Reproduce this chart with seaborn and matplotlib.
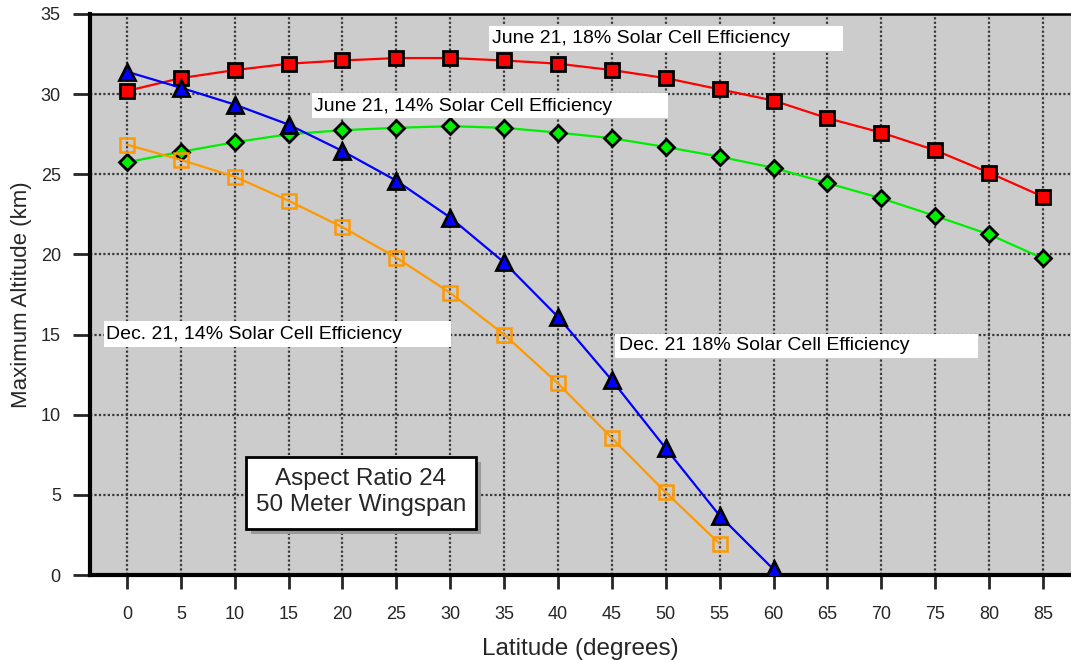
import matplotlib
matplotlib.use("Agg")
import matplotlib.pyplot as plt
from matplotlib.patches import Rectangle
import seaborn as sns

latitude = [0, 5, 10, 15, 20, 25, 30, 35, 40, 45, 50, 55, 60, 65, 70, 75, 80, 85]
june_18 = [30.2, 31.0, 31.5, 31.9, 32.1, 32.25, 32.25, 32.1, 31.9, 31.5, 31.0, 30.3, 29.6, 28.5, 27.6, 26.5, 25.1, 23.6]
june_14 = [25.75, 26.4, 27.0, 27.5, 27.75, 27.9, 28.0, 27.9, 27.6, 27.25, 26.7, 26.1, 25.4, 24.45, 23.5, 22.4, 21.25, 19.75]
dec_18_lat = [0, 5, 10, 15, 20, 25, 30, 35, 40, 45, 50, 55, 60]
dec_18 = [31.4, 30.4, 29.35, 28.1, 26.45, 24.6, 22.3, 19.5, 16.1, 12.15, 7.9, 3.7, 0.35]
dec_14_lat = [0, 5, 10, 15, 20, 25, 30, 35, 40, 45, 50, 55]
dec_14 = [26.85, 25.9, 24.85, 23.35, 21.7, 19.8, 17.6, 15.0, 11.95, 8.55, 5.15, 1.95]

x_ticks = list(range(0, 90, 5))
y_ticks = list(range(0, 40, 5))

sns.set_style("white")
plt.rcParams['font.family'] = ['Liberation Sans', 'DejaVu Sans']

fig = plt.figure(figsize=(10.71, 6.6), dpi=100)
ax = fig.add_axes([90/1071, 1-575/660, 1-90/1071, (575-14)/660])
ax.set_facecolor('#cccccc')

ax.set_xlim(-3.43, 87.6)
ax.set_ylim(0, 35)
ax.set_xticks(x_ticks)
ax.set_yticks(y_ticks)
ax.grid(True, color='#3a3a3a', linestyle=(0, (1, 1)), linewidth=1.6, zorder=0)
ax.set_axisbelow(True)

lw = 1.6
sns.lineplot(x=latitude, y=june_18, ax=ax, color='#ff0000', linewidth=lw,
             marker='s', markersize=10, markerfacecolor='#ff0000',
             markeredgecolor='black', markeredgewidth=2, zorder=5)
sns.lineplot(x=latitude, y=june_14, ax=ax, color='#00ee00', linewidth=lw,
             marker='D', markersize=8.5, markerfacecolor='#00ee00',
             markeredgecolor='black', markeredgewidth=2, zorder=4)
sns.lineplot(x=dec_18_lat, y=dec_18, ax=ax, color='#0000ff', linewidth=lw,
             marker='^', markersize=11.5, markerfacecolor='#0000ff',
             markeredgecolor='black', markeredgewidth=2, zorder=6)
sns.lineplot(x=dec_14_lat, y=dec_14, ax=ax, color='#ff9900', linewidth=lw,
             marker='s', markersize=10, markerfacecolor='none',
             markeredgecolor='#ff9900', markeredgewidth=1.8, zorder=5)

# label boxes
labels = [
    ("June 21, 18% Solar Cell Efficiency", (33.59, 32.69, 32.85, 1.56), 33.87, 33.47),
    ("June 21, 14% Solar Cell Efficiency", (17.17, 28.5, 33.03, 1.56), 17.4, 29.25),
    ("Dec. 21, 14% Solar Cell Efficiency", (-2.13, 14.25, 32.2, 1.62), -1.95, 15.0),
    ("Dec. 21 18% Solar Cell Efficiency", (45.29, 13.56, 33.68, 1.5), 45.66, 14.31),
]
for txt, (rx, ry, rw, rh), tx, ty in labels:
    ax.add_patch(Rectangle((rx, ry), rw, rh, facecolor='white', edgecolor='none', zorder=7))
    ax.text(tx, ty, txt, ha='left', va='center', fontsize=14, color='black', zorder=8)

# aspect ratio box with shadow
ax.add_patch(Rectangle((11.5, 2.55), 21.35, 4.5, facecolor='#999999', edgecolor='none', zorder=7))
ax.add_patch(Rectangle((11.04, 2.875), 21.35, 4.5, facecolor='white', edgecolor='black', linewidth=2, zorder=8))
ax.text(21.7, 5.2, "Aspect Ratio 24\n50 Meter Wingspan", ha='center', va='center',
        fontsize=17.5, linespacing=1.25, zorder=9)

for side in ['left', 'bottom']:
    ax.spines[side].set_linewidth(3)
    ax.spines[side].set_color('black')
ax.spines['top'].set_linewidth(1.8)
ax.spines['top'].set_color('black')
ax.spines['right'].set_visible(False)

ax.tick_params(axis='x', direction='out', length=10, width=2, pad=12, labelsize=13, bottom=True)
ax.tick_params(axis='y', direction='out', length=12, width=2, pad=9, labelsize=13, left=True)

ax.set_xlabel("Latitude (degrees)", fontsize=17.5, labelpad=11)
ax.set_ylabel("Maximum Altitude (km)", fontsize=16, labelpad=6)

fig.savefig("out.png", dpi=100)
